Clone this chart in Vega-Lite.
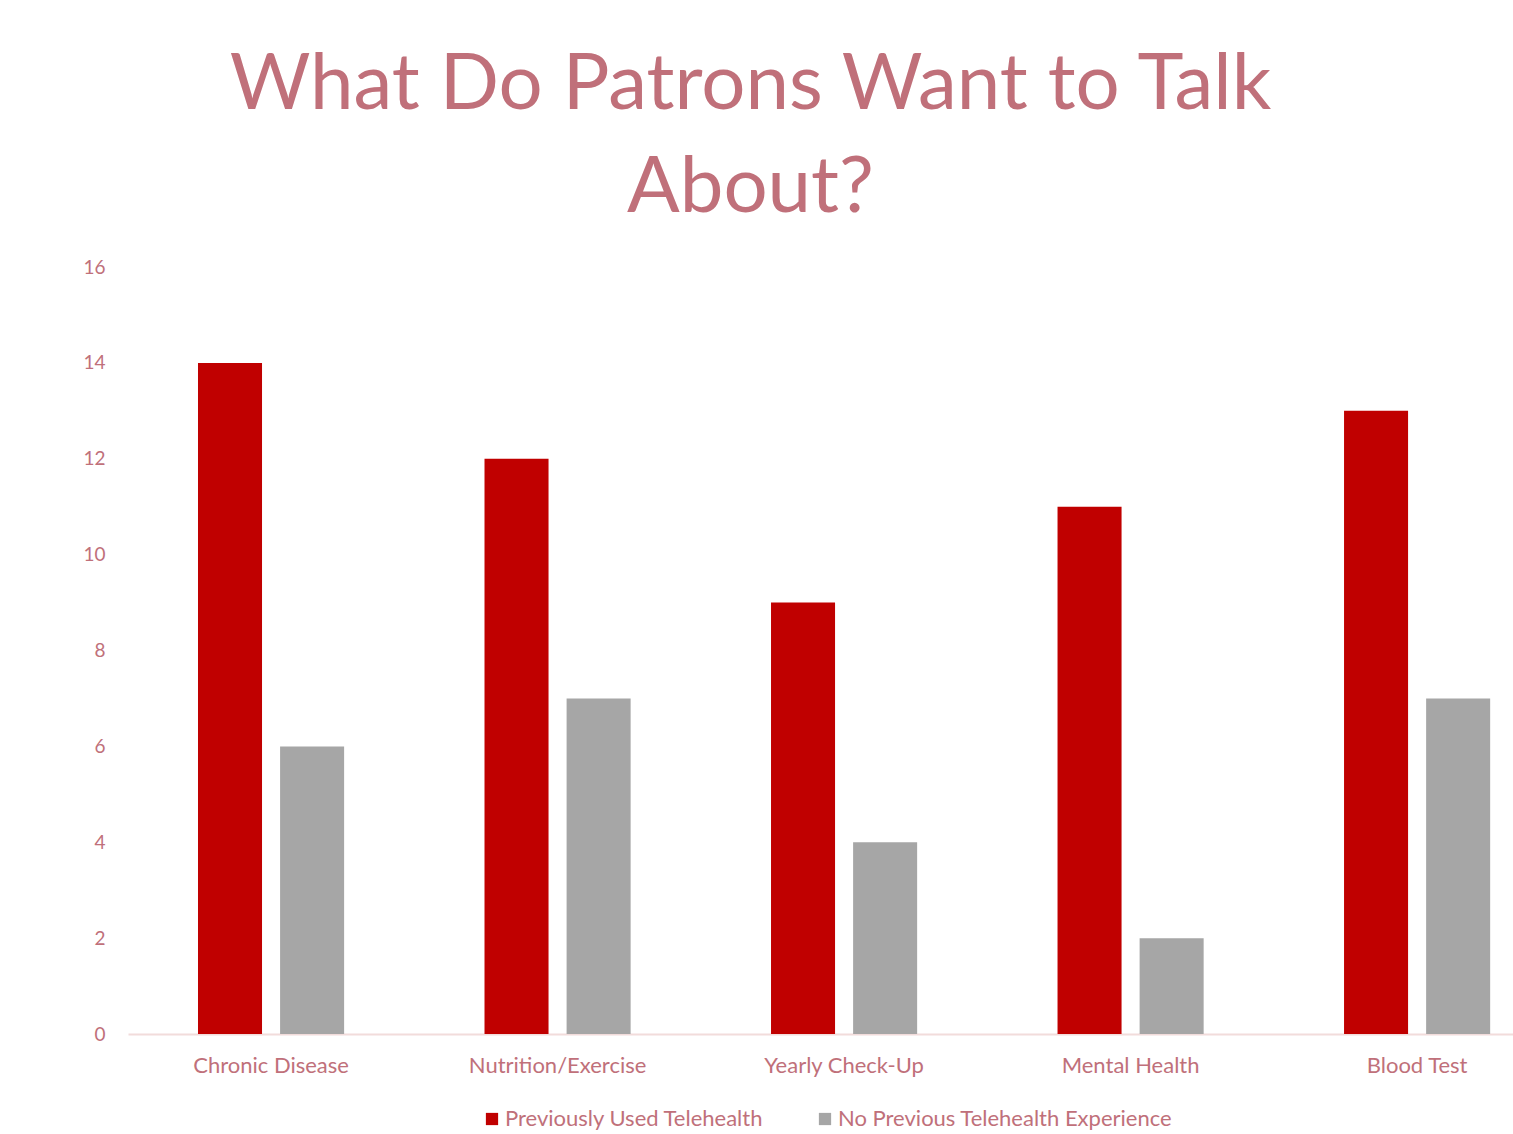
{
  "$schema": "https://vega.github.io/schema/vega-lite/v6.json",
  "autosize": {"type": "none"},
  "width": 1385,
  "height": 767,
  "padding": {"left": 128, "top": 267, "right": 0, "bottom": 100},
  "background": "white",
  "title": {
    "text": ["What Do Patrons Want to Talk", "About?"],
    "font": "Lato",
    "fontSize": 78,
    "fontWeight": "normal",
    "color": "#C0707A",
    "lineHeight": 103,
    "anchor": "middle",
    "dx": -70,
    "offset": 30
  },
  "data": {
    "values": [
      {"topic": "Chronic Disease", "group": "Previously Used Telehealth", "count": 14},
      {"topic": "Chronic Disease", "group": "No Previous Telehealth Experience", "count": 6},
      {"topic": "Nutrition/Exercise", "group": "Previously Used Telehealth", "count": 12},
      {"topic": "Nutrition/Exercise", "group": "No Previous Telehealth Experience", "count": 7},
      {"topic": "Yearly Check-Up", "group": "Previously Used Telehealth", "count": 9},
      {"topic": "Yearly Check-Up", "group": "No Previous Telehealth Experience", "count": 4},
      {"topic": "Mental Health", "group": "Previously Used Telehealth", "count": 11},
      {"topic": "Mental Health", "group": "No Previous Telehealth Experience", "count": 2},
      {"topic": "Blood Test", "group": "Previously Used Telehealth", "count": 13},
      {"topic": "Blood Test", "group": "No Previous Telehealth Experience", "count": 7}
    ]
  },
  "mark": {"type": "bar"},
  "encoding": {
    "x": {
      "field": "topic",
      "type": "nominal",
      "sort": null,
      "title": null,
      "scale": {"paddingInner": 0.49, "paddingOuter": 0.162, "align": 0.754},
      "axis": {
        "labelAngle": 0,
        "labelFont": "Lato",
        "labelFontSize": 22,
        "labelColor": "#C0707A",
        "labelPadding": 21,
        "ticks": false,
        "domainColor": "#F2DCDB",
        "domainWidth": 2,
        "grid": false
      }
    },
    "xOffset": {
      "field": "group",
      "type": "nominal",
      "sort": ["Previously Used Telehealth", "No Previous Telehealth Experience"],
      "scale": {"paddingInner": 0.22, "paddingOuter": 0}
    },
    "y": {
      "field": "count",
      "type": "quantitative",
      "title": null,
      "scale": {"domain": [0, 16], "nice": false},
      "axis": {
        "values": [0, 2, 4, 6, 8, 10, 12, 14, 16],
        "labelFont": "Lato",
        "labelFontSize": 19,
        "labelColor": "#C0707A",
        "labelPadding": 23,
        "ticks": false,
        "domain": false,
        "grid": false
      }
    },
    "color": {
      "field": "group",
      "type": "nominal",
      "sort": ["Previously Used Telehealth", "No Previous Telehealth Experience"],
      "scale": {"domain": ["Previously Used Telehealth", "No Previous Telehealth Experience"], "range": ["#C00000", "#A6A6A6"]},
      "legend": {
        "title": null,
        "orient": "none",
        "legendX": 353,
        "legendY": 841,
        "direction": "horizontal",
        "symbolType": "square",
        "symbolSize": 150,
        "symbolStrokeWidth": 0,
        "labelFont": "Lato",
        "labelFontSize": 22,
        "labelColor": "#C0707A",
        "labelLimit": 0,
        "labelOffset": 2,
        "columnPadding": 50,
        "padding": 0
      }
    }
  },
  "config": {"view": {"stroke": null}}
}
